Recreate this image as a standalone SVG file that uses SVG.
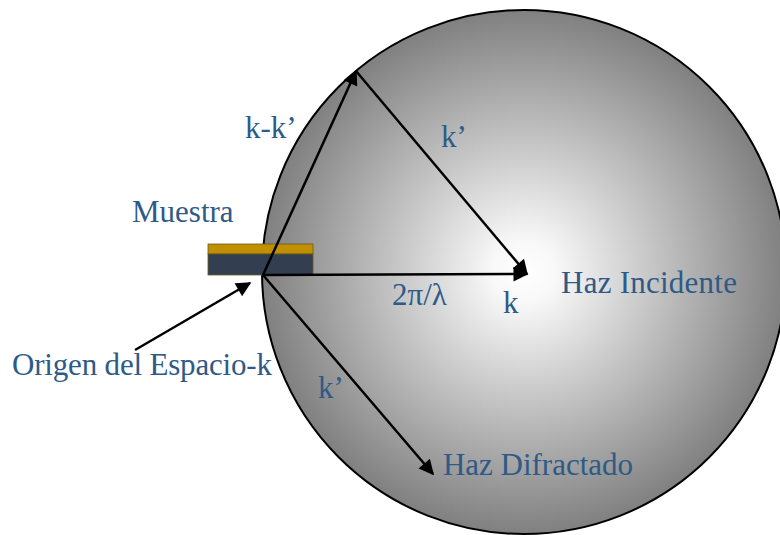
<svg xmlns="http://www.w3.org/2000/svg" width="780" height="535" viewBox="0 0 780 535">
<defs>
<radialGradient id="g" cx="0.5" cy="0.5" r="0.5">
<stop offset="0" stop-color="#ffffff"/>
<stop offset="0.12" stop-color="#f8f8f8"/>
<stop offset="1" stop-color="#808080"/>
</radialGradient>
<marker id="ah" viewBox="0 0 10 10" refX="9" refY="5" markerWidth="7" markerHeight="6" orient="auto" markerUnits="strokeWidth">
<path d="M0,0 L10,5 L0,10 z" fill="#000"/>
</marker>
</defs>
<style>
text{font-family:"Liberation Serif","Times New Roman",serif;fill:#2e5a88;font-size:31px}
.c{stroke:#000;stroke-width:2.5;fill:none}
</style>
<rect width="780" height="535" fill="#fff"/>
<g id="esfera">
<circle cx="524" cy="272" r="262" fill="url(#g)" stroke="#000" stroke-width="2"/>
</g>
<g id="muestra">
<rect x="208" y="244" width="105" height="10" fill="#c09000" stroke="#6b5a20" stroke-width="0.8"/>
<rect x="208" y="254" width="105" height="21" fill="#333f50" stroke="#6b5a20" stroke-width="0.8"/>
<text x="132" y="222">Muestra</text>
</g>
<g id="conectores">
<line class="c" x1="263" y1="275" x2="527" y2="274" marker-end="url(#ah)"/>
<line class="c" x1="263" y1="275" x2="356" y2="71" marker-end="url(#ah)"/>
<line class="c" x1="356" y1="71" x2="527" y2="274" marker-end="url(#ah)"/>
<line class="c" x1="263" y1="275" x2="433" y2="474" marker-end="url(#ah)"/>
<line class="c" stroke-width="2" x1="135" y1="350" x2="250" y2="283" marker-end="url(#ah)"/>
</g>
<g id="etiquetas">
<text x="245" y="138">k-k’</text>
<text x="441" y="147">k’</text>
<text x="392" y="305">2π/λ</text>
<text x="503" y="313">k</text>
<text x="318" y="398">k’</text>
</g>
<g id="haz-incidente"><text x="561" y="293" textLength="176">Haz Incidente</text></g>
<g id="origen"><text x="12" y="375" textLength="260">Origen del Espacio-k</text></g>
<g id="haz-difractado"><text x="443" y="475" textLength="190">Haz Difractado</text></g>
</svg>
